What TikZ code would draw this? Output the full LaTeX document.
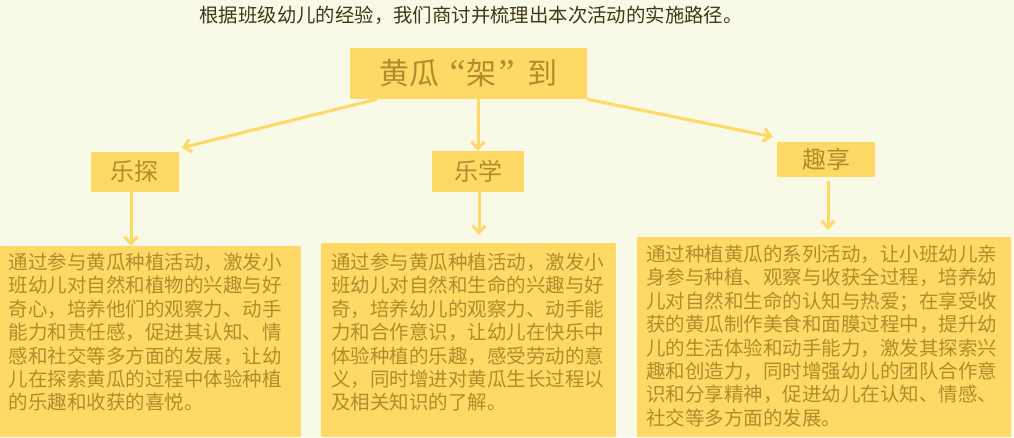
\documentclass[tikz,border=0pt]{standalone}
\usepackage{fontspec}
\newfontfamily\cjk{Noto Sans CJK SC}
\newfontfamily\qfont{Liberation Serif}
\usetikzlibrary{arrows.meta}
\definecolor{cream}{RGB}{249,249,232}
\definecolor{gold}{RGB}{255,217,102}
\definecolor{darkgold}{RGB}{178,140,42}
\definecolor{olive}{RGB}{64,56,24}

\begin{document}
\begin{tikzpicture}
	[x=1pt,y=-1pt,
	panel/.style={fill=gold, inner sep=0pt},
	topic/.style={panel, minimum width=237pt, minimum height=51pt, text=darkgold, font=\cjk\fontsize{30}{30}\selectfont},
	stage/.style={panel, text=darkgold, font=\cjk\fontsize{24}{24}\selectfont},
	para/.style={anchor=north west, inner sep=0pt, align=left, text=darkgold, font=\cjk\fontsize{19.5}{23.4}\selectfont},
	link/.style={draw=gold, line width=3pt, -{Straight Barb[length=7pt,width=13pt]}}]

\useasboundingbox (0,0) rectangle (1014,437);
\fill [cream] (0,0) rectangle (1014,437);

\node [text=olive, font=\cjk\fontsize{19.4}{19.4}\selectfont] (intro) at (471,15) {根据班级幼儿的经验，我们商讨并梳理出本次活动的实施路径。};

\node [topic] (gua) at (468.5,73.5) {黄瓜\hspace{10pt}{\qfont\fontsize{36}{36}\selectfont“}\hspace{1pt}架\hspace{2pt}{\qfont\fontsize{36}{36}\selectfont”}\hspace{13pt}到\hspace{8pt}};
\node [stage, minimum width=88pt, minimum height=40pt] (tan) at (134.5,171.5) {乐探};
\node [stage, minimum width=92pt, minimum height=41pt] (xue) at (478,171.5) {乐学};
\node [stage, minimum width=98pt, minimum height=35pt] (xiang) at (826,159.5) {趣享};

\node [panel, minimum width=301pt, minimum height=191pt] (tanbox) at (150.5,341.5) {};
\node [panel, minimum width=295pt, minimum height=194pt] (xuebox) at (468.5,340) {};
\node [panel, minimum width=374pt, minimum height=200pt] (xiangbox) at (824,337) {};

\node [para] (tantext) at ([xshift=9pt,yshift=-7pt]tanbox.north west) {通过参与黄瓜种植活动，激发小\\班幼儿对自然和植物的兴趣与好\\奇心，培养他们的观察力、动手\\能力和责任感，促进其认知、情\\感和社交等多方面的发展，让幼\\儿在探索黄瓜的过程中体验种植\\的乐趣和收获的喜悦。};
\node [para] (xuetext) at ([xshift=10pt,yshift=-10pt]xuebox.north west) {通过参与黄瓜种植活动，激发小\\班幼儿对自然和生命的兴趣与好\\奇，培养幼儿的观察力、动手能\\力和合作意识，让幼儿在快乐中\\体验种植的乐趣，感受劳动的意\\义，同时增进对黄瓜生长过程以\\及相关知识的了解。};
\node [para] (xiangtext) at ([xshift=9pt,yshift=-8pt]xiangbox.north west) {通过种植黄瓜的系列活动，让小班幼儿亲\\身参与种植、观察与收获全过程，培养幼\\儿对自然和生命的认知与热爱；在享受收\\获的黄瓜制作美食和面膜过程中，提升幼\\儿的生活体验和动手能力，激发其探索兴\\趣和创造力，同时增强幼儿的团队合作意\\识和分享精神，促进幼儿在认知、情感、\\社交等多方面的发展。};

\draw [link] ([xshift=27pt]gua.south west) -- ([xshift=3pt,yshift=3.5pt]tan.north east);
\draw [link] (xue.north |- gua.south) -- (xue.north);
\draw [link] (gua.south east) -- ([xshift=-4pt,yshift=5pt]xiang.north west);

\draw [link] ([xshift=-3.5pt]tan.south) -- ([xshift=-3.5pt]tan.south |- tanbox.north);
\draw [link] ([xshift=1pt]xue.south) -- ([xshift=1pt,yshift=8pt]xue.south |- xuebox.north);
\draw [link] ([xshift=2pt,yshift=-4pt]xiang.south) -- ([xshift=2pt,yshift=7pt]xiang.south |- xiangbox.north);

\end{tikzpicture}
\end{document}
